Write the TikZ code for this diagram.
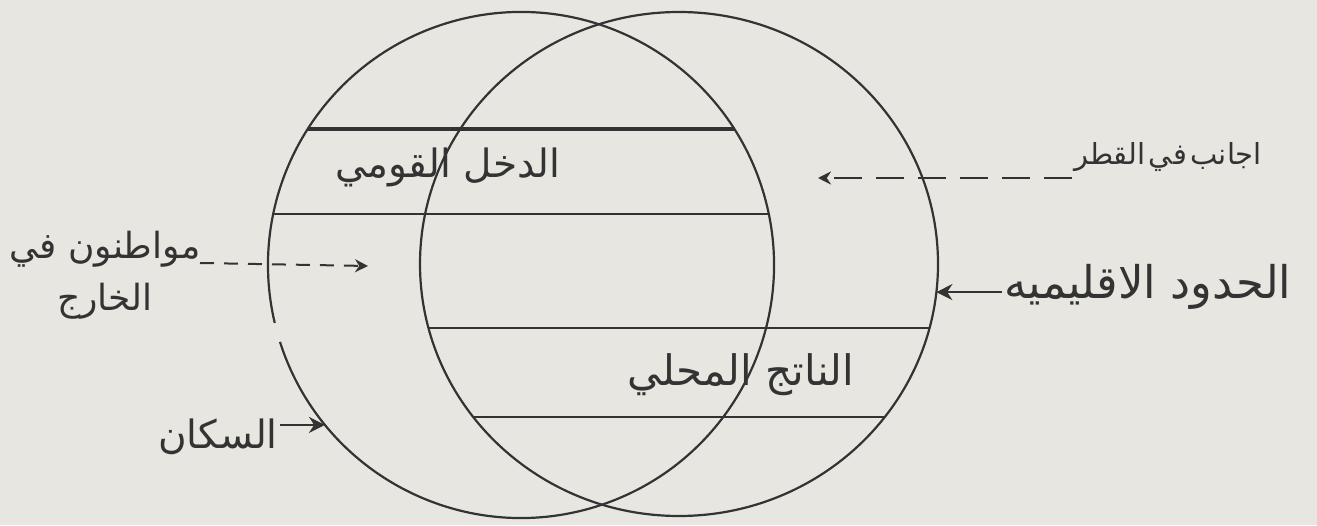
\documentclass[tikz,border=0pt]{standalone}
\usepackage{fontspec}
\newfontfamily\arabicfont[Script=Arabic]{DejaVu Sans}
\TeXXeTstate=1
\usetikzlibrary{arrows.meta,calc}
\definecolor{paper}{HTML}{E7E6E0}
\definecolor{ink}{HTML}{333333}
\definecolor{inkgray}{HTML}{5A5A5A}
\tikzset{
  ring/.style={draw=ink,line width=2.2pt},
  band/.style={draw=ink,line width=2.4pt},
  arlabel/.style={font=\arabicfont\fontsize{#1}{52}\selectfont,text=ink,
                  inner sep=2pt,align=center},
  arlabel/.default=30,
  solidarr/.style={-{Stealth[length=16pt,width=16pt]},line width=2pt,draw=ink},
  dasharr/.style={-{Stealth[length=13pt,width=13pt]},line width=2pt,draw=ink,
                  dash pattern=on 14pt off 10pt}
}
\begin{document}
\begin{tikzpicture}[x=1pt,y=1pt]
  \fill[paper] (0,0) rectangle (1317,525);
  \useasboundingbox (0,0) rectangle (1317,525);
  \coordinate (lc) at (521,260);
  \coordinate (rc) at (679,261);
  % the two rings
  \draw[ring] ($(lc)+(197.7:253)$) arc[start angle=197.7,end angle=553.25,radius=253];
  \draw[ring] (rc) ellipse[x radius=259,y radius=252];
  % band ends on the rings
  \path (lc) ++(147.5:253) coordinate (b1w) (lc) ++(32.5:253) coordinate (b1e);
  \path (lc) ++(168.4:253) coordinate (b2w) (lc) ++(11.6:253) coordinate (b2e);
  \path (rc) ++(194.7:259 and 252) coordinate (b3w) (rc) ++(-14.7:259 and 252) coordinate (b3e);
  \path (rc) ++(217.4:259 and 252) coordinate (b4w) (rc) ++(-37.4:259 and 252) coordinate (b4e);
  \draw[band,line width=3.6pt] (b1w) -- (b1e);
  \draw[band] (b2w) -- (b2e);
  \draw[band] (b3w) -- (b3e);
  \draw[band] (b4w) -- (b4e);
  % labels
  \node[arlabel=39] (natinc) at (448,358) {\beginR الدخل القومي\endR};
  \node[arlabel=42] (domprod) at (741,150) {\beginR الناتج المحلي\endR};
  \node[arlabel=36] (citz) at (105,250) {\beginR مواطنون في\endR\\\beginR الخارج\endR};
  \node[arlabel=39] (pop) at (218,88) {\beginR السكان\endR};
  \node[arlabel=29] (forg) at (1168,368) {\spaceskip=0.12em\beginR اجانب في القطر\endR};
  \node[arlabel=45] (bord) at (1148,238) {\beginR الحدود الاقليميه\endR};
  % arrows
  \coordinate (citzfrom) at (200,262);
  \coordinate (citztip) at (368,259);
  \path (lc) ++(219.2:253) coordinate (poptip);
  \path (rc) ++(-6.4:259 and 252) coordinate (bordtip);
  \coordinate (forgtip) at (818,347);
  \draw[dasharr] (citzfrom) -- (citztip);
  \draw[solidarr] (pop.east |- poptip) -- (poptip);
  \draw[solidarr] (bord.west |- bordtip) -- (bordtip);
  \draw[dasharr,dash pattern=on 28pt off 14pt] (forg.west |- forgtip) -- (forgtip);
\end{tikzpicture}
\end{document}
